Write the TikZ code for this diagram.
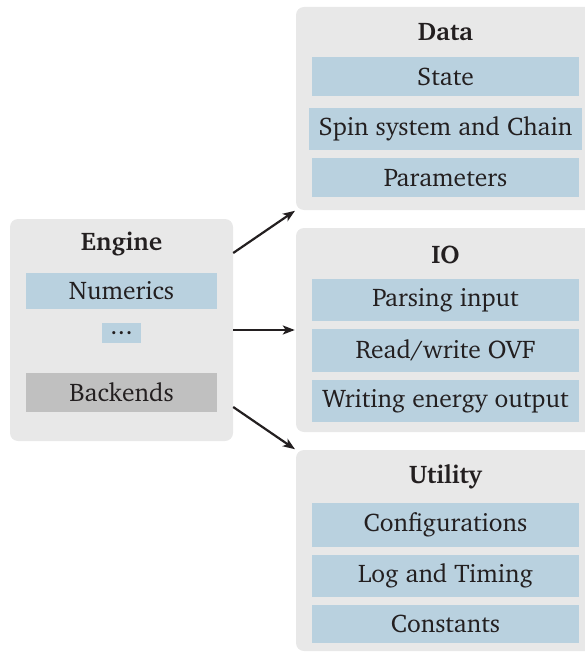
\documentclass[tikz,border=0pt]{standalone}
\usepackage[T1]{fontenc}
\usepackage{charter}
\usetikzlibrary{arrows.meta}
\definecolor{boxgrey}{RGB}{232,232,232}
\definecolor{barblue}{RGB}{185,209,223}
\definecolor{bargrey}{RGB}{192,192,192}
\definecolor{ink}{RGB}{35,31,32}
\tikzset{
  group/.style={fill=boxgrey, draw=none, rounded corners=8pt, inner sep=0pt},
  title/.style={font=\fontsize{25.5}{30}\selectfont\bfseries, text=ink, anchor=base},
  bar/.style={fill=barblue, draw=none, inner sep=0pt, minimum width=267pt,
    font=\fontsize{25.5}{30}\selectfont, text=ink},
  ebar/.style={bar, minimum width=191pt},
  arr/.style={-{Stealth[length=12pt,width=9pt,inset=3pt]}, line width=2.2pt, draw=ink, shorten >=1pt}
}
\begin{document}
\begin{tikzpicture}[x=1pt,y=-1pt]
\useasboundingbox (0,0) rectangle (585,652);
\clip (0,0) rectangle (585,652);
% groups
\node[group, minimum width=223pt, minimum height=222pt] (engine) at (121.5,330) {};
\node[group, minimum width=299pt, minimum height=203pt] (data) at (445.5,108.5) {};
\node[group, minimum width=299pt, minimum height=204pt] (io) at (445.5,330) {};
\node[group, minimum width=299pt, minimum height=201pt] (utility) at (445.5,550.5) {};
% engine
\node[title] (tengine) at (121.5,250) {Engine};
\node[ebar, minimum height=36pt] (numerics) at (121.5,291) {Numerics};
\node[ebar, minimum width=39pt, minimum height=20pt] (dots) at (121.5,333) {.\hspace{0.5pt}.\hspace{0.5pt}.};
\node[ebar, fill=bargrey, minimum height=39pt] (backends) at (121.5,392.5) {Backends};
% data
\node[title] (tdata) at (445.5,41) {Data};
\node[bar, minimum height=39pt] (state) at (445.5,76.5) {State};
\node[bar, minimum width=273pt, minimum height=42pt] (spin) at (445.5,129) {Spin system and Chain};
\node[bar, minimum height=39pt] (params) at (445.5,177.5) {Parameters};
% io
\node[title] (tio) at (445.5,263) {IO};
\node[bar, minimum height=42pt] (parsing) at (445.5,300) {Parsing input};
\node[bar, minimum height=43pt] (ovf) at (445.5,350.5) {Read/write OVF};
\node[bar, minimum height=42pt] (energy) at (445.5,401) {Writing energy output};
% utility
\node[title] (tutil) at (445.5,483) {Utility};
\node[bar, minimum height=44pt] (configs) at (445.5,525) {Configurations};
\node[bar, minimum height=42pt] (log) at (445.5,576) {Log and Timing};
\node[bar, minimum height=38pt] (consts) at (445.5,624) {Constants};
% arrows
\draw[arr] ([yshift=77pt]engine.east) -- (data.south west);
\draw[arr] (engine.east) -- (io.west);
\draw[arr] ([yshift=-77pt]engine.east) -- (utility.north west);
\end{tikzpicture}
\end{document}
